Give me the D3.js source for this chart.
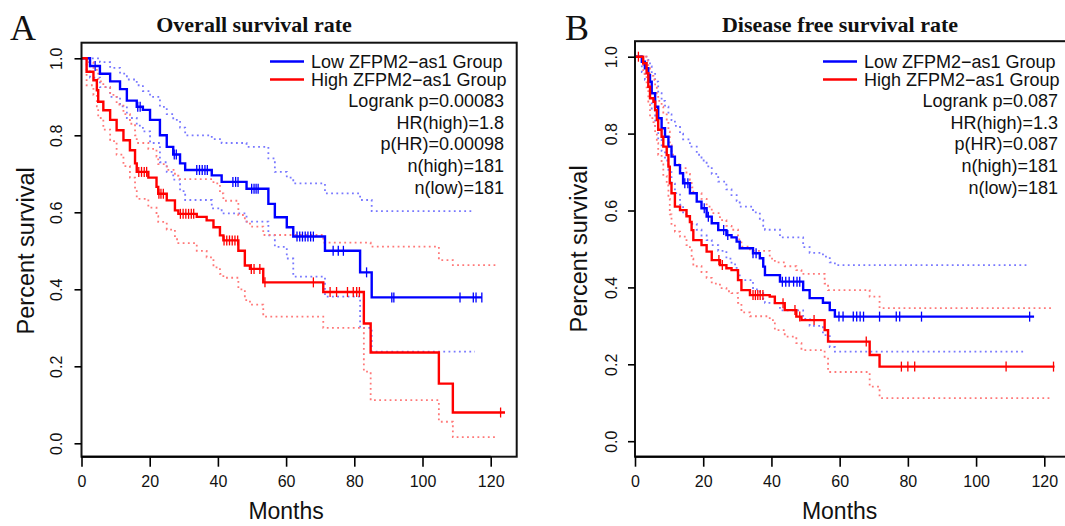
<!DOCTYPE html>
<html lang="en">
<head>
<meta charset="UTF-8">
<title>ZFPM2-AS1 survival</title>
<script src="https://d3js.org/d3.v7.min.js"></script>
<style>
  body { margin: 0; background: #fff; }
  svg { display: block; }
  text { font-family: "Liberation Sans", Arial, sans-serif; fill: #111; }
</style>
</head>
<body>
<div id="chart"></div>
<script>
// shared axis values
const monthTicks = [0, 20, 40, 60, 80, 100, 120];
const survTicks = [0, 0.2, 0.4, 0.6, 0.8, 1.0];
const groupNames = ["Low ZFPM2\u2212as1 Group", "High ZFPM2\u2212as1 Group"];

// ---- A: overall survival, steps as [month, survival] ----
const osLow = [[0,1],[2.5,0.98],[5.4,0.96],[8.4,0.94],[11.3,0.92],[13.3,0.89],[16.2,0.874],[18,0.866],[20.1,0.84],
  [23,0.80],[25,0.77],[26.9,0.75],[28.9,0.727],[30.4,0.71],[38.2,0.696],[41.1,0.679],[48.4,0.661],[54.8,0.622],
  [56.7,0.587],[60.2,0.561],[62.1,0.537],[71.4,0.50],[81.7,0.444],[85.1,0.379],[117.4,0.379]];
const osLowUpper = [[0,1],[5.4,0.99],[8.4,0.975],[11.3,0.96],[13.3,0.945],[16.2,0.93],[18,0.915],[20.1,0.9],[23,0.874],
  [25,0.855],[26.9,0.84],[28.9,0.82],[30.4,0.80],[38.2,0.79],[41.1,0.78],[48.4,0.77],[54.8,0.74],[56.7,0.705],
  [60.2,0.69],[62.1,0.675],[71.4,0.649],[81.7,0.632],[85.1,0.603],[114.9,0.603]];
const osLowLower = [[0,1],[2.5,0.95],[5.4,0.925],[8.4,0.9],[11.3,0.875],[13.3,0.845],[16.2,0.825],[18,0.81],[20.1,0.78],
  [23,0.73],[25,0.705],[26.9,0.685],[28.9,0.655],[30.4,0.632],[38.2,0.61],[41.1,0.597],[48.4,0.576],[54.8,0.54],
  [56.7,0.51],[60.2,0.48],[62.1,0.433],[71.4,0.381],[81.7,0.30],[85.1,0.238],[115.4,0.238]];
const osLowCensor = [4, 16.5, 17.2, 27.2, 27.8, 33.8, 34.6, 35.4, 36.2, 36.9, 44.4, 45.2, 45.9, 49.9, 50.6, 51.2, 51.8,
  63.2, 64, 64.8, 65.6, 66.4, 67.2, 68, 73.8, 75.3, 76.8, 83.6, 91, 91.6, 111, 114.9, 115.7, 117.4];

const osHigh = [[0,1],[1.5,0.965],[3.5,0.943],[4.5,0.917],[4.9,0.887],[6.4,0.865],[8.4,0.84],[10.3,0.813],[12.3,0.787],
  [14.2,0.761],[15.7,0.727],[16.2,0.705],[19.6,0.69],[22,0.666],[22.5,0.648],[25,0.631],[27.4,0.605],[28.4,0.596],
  [33.8,0.588],[36.7,0.579],[38.7,0.561],[40.6,0.54],[41.6,0.527],[46,0.50],[47.9,0.462],[49.4,0.453],[53.3,0.418],
  [70.9,0.393],[82.8,0.311],[84.8,0.236],[104.8,0.155],[108.9,0.08],[124.2,0.08]];
const osHighUpper = [[0,1],[1.5,0.99],[3.5,0.975],[4.5,0.96],[4.9,0.94],[6.4,0.925],[8.4,0.905],[10.3,0.88],[12.3,0.855],
  [14.2,0.83],[15.7,0.80],[16.2,0.78],[19.6,0.765],[22,0.745],[22.5,0.725],[25,0.71],[27.4,0.695],[28.4,0.686],
  [38.7,0.675],[40.6,0.649],[41.6,0.63],[46,0.593],[47.9,0.576],[49.4,0.563],[53.3,0.541],[70.9,0.521],[84.8,0.511],
  [104.8,0.476],[108.9,0.463],[121.7,0.463]];
const osHighLower = [[0,1],[1.5,0.93],[3.5,0.905],[4.5,0.875],[4.9,0.845],[6.4,0.815],[8.4,0.785],[10.3,0.75],[12.3,0.72],
  [14.2,0.69],[15.7,0.655],[16.2,0.635],[19.6,0.612],[22,0.59],[22.5,0.575],[25,0.555],[27.4,0.53],[28.4,0.52],
  [33.8,0.50],[36.7,0.483],[38.7,0.457],[40.6,0.44],[41.6,0.43],[46,0.40],[47.9,0.372],[49.4,0.36],[53.3,0.329],
  [70.9,0.30],[82.8,0.186],[84.8,0.112],[104.8,0.056],[108.9,0.016],[121.7,0.016]];
const osHighCensor = [16.8, 17.6, 18.4, 19.1, 22.7, 23.3, 24, 29, 29.8, 30.6, 31.4, 32.2, 32.9, 41.8, 42.6, 43.4, 44.2,
  45, 45.8, 49.8, 50.6, 52.3, 53.8, 68, 72.9, 74.8, 78, 79.7, 80.7, 81.5, 122.9];

const osStats = ["Logrank p=0.00083", "HR(high)=1.8", "p(HR)=0.00098", "n(high)=181", "n(low)=181"];

// ---- B: disease free survival ----
const dfsLow = [[0,1],[2,0.987],[2.9,0.97],[3.9,0.952],[4.4,0.935],[4.9,0.905],[5.9,0.87],[6.8,0.84],[7.8,0.814],
  [8.8,0.792],[9.8,0.766],[10.7,0.74],[11.7,0.718],[13.2,0.697],[14.1,0.671],[16.1,0.645],[18.1,0.623],[19.5,0.606],
  [21,0.584],[22.5,0.567],[24.4,0.549],[26.8,0.536],[28.3,0.53],[29.8,0.519],[30.7,0.502],[34.6,0.489],[36.6,0.476],
  [37.6,0.454],[38.1,0.432],[42.5,0.415],[49.3,0.393],[51.2,0.372],[55.1,0.36],[57.1,0.341],[58.6,0.324],[117,0.324]];
const dfsLowUpper = [[0,1],[3.9,0.99],[4.4,0.975],[4.9,0.96],[5.9,0.935],[6.8,0.905],[7.8,0.885],[8.8,0.87],[9.8,0.85],
  [10.7,0.835],[11.7,0.82],[13.2,0.80],[14.1,0.785],[16.1,0.766],[18.1,0.745],[19.5,0.73],[21,0.715],[22.5,0.695],
  [24.4,0.675],[26.8,0.655],[28.3,0.64],[29.8,0.625],[30.7,0.61],[34.6,0.595],[36.6,0.575],[37.6,0.56],[38.1,0.55],
  [42.5,0.53],[49.3,0.505],[51.2,0.49],[55.1,0.48],[57.1,0.465],[58.6,0.458],[115.7,0.458]];
const dfsLowLower = [[0,1],[2,0.96],[2.9,0.94],[3.9,0.915],[4.4,0.895],[4.9,0.86],[5.9,0.82],[6.8,0.785],[7.8,0.755],
  [8.8,0.73],[9.8,0.70],[10.7,0.67],[11.7,0.645],[13.2,0.615],[14.1,0.59],[16.1,0.565],[18.1,0.55],[19.5,0.535],
  [21,0.523],[22.5,0.51],[24.4,0.495],[26.8,0.475],[28.3,0.46],[29.8,0.44],[30.7,0.419],[34.6,0.395],[36.6,0.385],
  [37.6,0.37],[38.1,0.36],[42.5,0.34],[49.3,0.318],[51.2,0.30],[55.1,0.276],[57.1,0.245],[58.6,0.233],[114.2,0.233]];
const dfsLowCensor = [14.6, 15.5, 20.3, 21.5, 26, 27.2, 34.6, 35.5, 43.2, 44.2, 45.2, 46.5, 47.5, 48.3, 59.8, 61, 64, 65,
  66, 67, 71.7, 76.6, 77.6, 84, 115.7];

const dfsHigh = [[0,1],[2.4,0.983],[3.4,0.957],[3.9,0.922],[4.4,0.892],[5.4,0.883],[5.9,0.861],[6.4,0.835],[6.8,0.81],
  [7.8,0.792],[8.3,0.766],[9.3,0.744],[9.8,0.714],[10.2,0.671],[10.7,0.645],[11.7,0.61],[13.2,0.601],[15.1,0.585],
  [16.1,0.57],[16.6,0.549],[17.1,0.523],[19.5,0.51],[21,0.493],[22.5,0.471],[24.9,0.458],[26.8,0.45],[28.3,0.445],
  [30.2,0.419],[31.2,0.393],[33.7,0.38],[39.5,0.376],[41,0.359],[43.9,0.341],[47.3,0.324],[48.8,0.315],[55.6,0.289],
  [56.6,0.259],[68.8,0.224],[71.7,0.194],[123,0.194]];
const dfsHighUpper = [[0,1],[3.4,0.99],[3.9,0.97],[4.4,0.95],[5.4,0.94],[5.9,0.925],[6.4,0.905],[6.8,0.885],[7.8,0.87],
  [8.3,0.85],[9.3,0.83],[9.8,0.805],[10.2,0.77],[10.7,0.745],[11.7,0.72],[13.2,0.71],[15.1,0.695],[16.1,0.68],
  [16.6,0.66],[17.1,0.645],[19.5,0.63],[21,0.61],[22.5,0.593],[24.9,0.575],[26.8,0.56],[28.3,0.55],[30.2,0.525],
  [31.2,0.506],[33.7,0.495],[39.5,0.475],[41,0.465],[43.9,0.455],[47.3,0.445],[48.8,0.435],[55.6,0.41],[56.6,0.393],
  [68.8,0.376],[71.7,0.346],[122.4,0.346]];
const dfsHighLower = [[0,1],[2.4,0.955],[3.4,0.92],[3.9,0.875],[4.4,0.84],[5.4,0.83],[5.9,0.80],[6.4,0.775],[6.8,0.745],
  [7.8,0.72],[8.3,0.69],[9.3,0.665],[9.8,0.63],[10.2,0.59],[10.7,0.565],[11.7,0.545],[13.2,0.532],[15.1,0.51],
  [16.1,0.497],[16.6,0.475],[17.1,0.455],[19.5,0.44],[21,0.425],[22.5,0.41],[24.9,0.398],[26.8,0.39],[28.3,0.385],
  [30.2,0.36],[31.2,0.335],[33.7,0.325],[39.5,0.315],[41,0.289],[43.9,0.272],[47.3,0.255],[48.8,0.237],[55.6,0.215],
  [56.6,0.18],[68.8,0.142],[71.7,0.112],[121.5,0.112]];
const dfsHighCensor = [1, 24.6, 25.6, 34.6, 35.3, 36, 36.7, 37.5, 43.4, 46.9, 48.3, 52.5, 67.8, 78.1, 80, 82, 108.8, 122.7];

const dfsStats = ["Logrank p=0.087", "HR(high)=1.3", "p(HR)=0.087", "n(high)=181", "n(low)=181"];

const width = 1065, height = 526;
const blue = "#0000ff", red = "#ff0000";
const blueCI = "#7878ff", redCI = "#ff7878";

const svg = d3.select("#chart").append("svg")
  .attr("width", width)
  .attr("height", height);

// survival value of a step curve at time t
function survAt(steps, t) {
  let s = steps[0][1];
  for (const [m, v] of steps) if (m <= t) s = v;
  return s;
}

function drawPanel(p) {
  const g = svg.append("g");
  const x = d3.scaleLinear().domain([0, 120]).range([p.x0, p.x120]);
  const y = d3.scaleLinear().domain([0, 1]).range([p.y0, p.y1]);
  const line = d3.line().x(d => x(d[0])).y(d => y(d[1])).curve(d3.curveStepAfter);

  // confidence bands (dotted)
  [[p.lowUpper, blueCI], [p.lowLower, blueCI], [p.highUpper, redCI], [p.highLower, redCI]].forEach(([d, c]) => {
    g.append("path").datum(d)
      .attr("d", line)
      .attr("fill", "none")
      .attr("stroke", c)
      .attr("stroke-width", 1.8)
      .attr("stroke-dasharray", "1.8 3.4");
  });

  // survival curves + censor marks
  [[p.low, p.lowCensor, blue], [p.high, p.highCensor, red]].forEach(([d, cens, c]) => {
    g.append("path").datum(d)
      .attr("d", line)
      .attr("fill", "none")
      .attr("stroke", c)
      .attr("stroke-width", 2.4);
    g.selectAll(null).data(cens).enter().append("line")
      .attr("x1", t => x(t)).attr("x2", t => x(t))
      .attr("y1", t => y(survAt(d, t)) - 5)
      .attr("y2", t => y(survAt(d, t)) + 5)
      .attr("stroke", c)
      .attr("stroke-width", 1.3);
  });

  // frame
  g.append("rect")
    .attr("x", p.left).attr("y", p.top)
    .attr("width", p.right - p.left).attr("height", p.bottom - p.top)
    .attr("fill", "none").attr("stroke", "#111").attr("stroke-width", 2);

  // x axis
  const xa = g.append("g").attr("transform", `translate(0,${p.bottom})`)
    .call(d3.axisBottom(x).tickValues(monthTicks).tickSize(10).tickPadding(9).tickFormat(d3.format("d")));
  xa.select(".domain").attr("stroke-width", 2).attr("d", `M${x(0)},0H${x(120)}`);
  xa.selectAll(".tick line").attr("stroke-width", 1.6);
  xa.selectAll("text").attr("font-size", 16).attr("fill", "#222")
    .style("font-family", "'Liberation Sans', Arial, sans-serif");

  // y axis with rotated labels
  const ya = g.append("g").attr("transform", `translate(${p.left},0)`)
    .call(d3.axisLeft(y).tickValues(survTicks).tickSize(7).tickFormat(d3.format(".1f")));
  ya.select(".domain").remove();
  ya.selectAll(".tick line").attr("stroke-width", 1.6);
  ya.selectAll("text")
    .attr("x", 0).attr("dy", null)
    .attr("font-size", 16).attr("fill", "#222")
    .attr("text-anchor", "middle")
    .attr("dominant-baseline", "central")
    .attr("transform", `translate(${-p.tickLabelOffset},0) rotate(-90)`)
    .style("font-family", "'Liberation Sans', Arial, sans-serif");

  // axis titles
  g.append("text")
    .attr("x", (x(0) + x(120)) / 2).attr("y", 511)
    .attr("text-anchor", "middle").attr("dominant-baseline", "central")
    .attr("font-size", 23).attr("fill", "#222")
    .text("Months");
  g.append("text")
    .attr("transform", `translate(${p.left - 56},${(y(0) + y(1)) / 2}) rotate(-90)`)
    .attr("text-anchor", "middle").attr("dominant-baseline", "central")
    .attr("font-size", 23.5).attr("fill", "#222")
    .text("Percent survival");

  // panel letter and title
  g.append("text")
    .attr("x", p.letterX).attr("y", 40)
    .style("font-family", "'Liberation Serif', 'Times New Roman', serif")
    .attr("font-size", 36)
    .text(p.letter);
  g.append("text")
    .attr("x", p.titleX).attr("y", 32)
    .attr("text-anchor", "middle")
    .style("font-family", "'Liberation Serif', 'Times New Roman', serif")
    .attr("font-weight", "bold")
    .attr("font-size", 22)
    .text(p.title);

  // legend
  const legendY = [61.5, 79.5];
  [blue, red].forEach((c, i) => {
    g.append("line")
      .attr("x1", p.legendX).attr("x2", p.legendX + 34)
      .attr("y1", legendY[i]).attr("y2", legendY[i])
      .attr("stroke", c).attr("stroke-width", 2.4);
    g.append("text")
      .attr("x", p.legendX + 41).attr("y", legendY[i])
      .attr("dominant-baseline", "central")
      .attr("font-size", 18).attr("fill", "#222")
      .text(groupNames[i]);
  });
  const statY = [101, 122.5, 144, 166, 188];
  p.stats.forEach((s, i) => {
    g.append("text")
      .attr("x", p.statsX).attr("y", statY[i])
      .attr("text-anchor", "end").attr("dominant-baseline", "central")
      .attr("font-size", 18).attr("fill", "#222")
      .text(s);
  });
}

drawPanel({
  letter: "A", letterX: 10, title: "Overall survival rate", titleX: 254,
  left: 81.5, right: 516.7, top: 42.7, bottom: 456.7,
  x0: 81.5, x120: 490.7, y0: 443.3, y1: 58.3, tickLabelOffset: 25,
  legendX: 270, statsX: 504,
  low: osLow, lowUpper: osLowUpper, lowLower: osLowLower, lowCensor: osLowCensor,
  high: osHigh, highUpper: osHighUpper, highLower: osHighLower, highCensor: osHighCensor,
  stats: osStats
});

drawPanel({
  letter: "B", letterX: 565, title: "Disease free survival rate", titleX: 840,
  left: 635, right: 1070, top: 41.2, bottom: 456.7,
  x0: 635, x120: 1044.3, y0: 441.2, y1: 56.7, tickLabelOffset: 24,
  legendX: 823, statsX: 1058,
  low: dfsLow, lowUpper: dfsLowUpper, lowLower: dfsLowLower, lowCensor: dfsLowCensor,
  high: dfsHigh, highUpper: dfsHighUpper, highLower: dfsHighLower, highCensor: dfsHighCensor,
  stats: dfsStats
});
</script>
</body>
</html>
